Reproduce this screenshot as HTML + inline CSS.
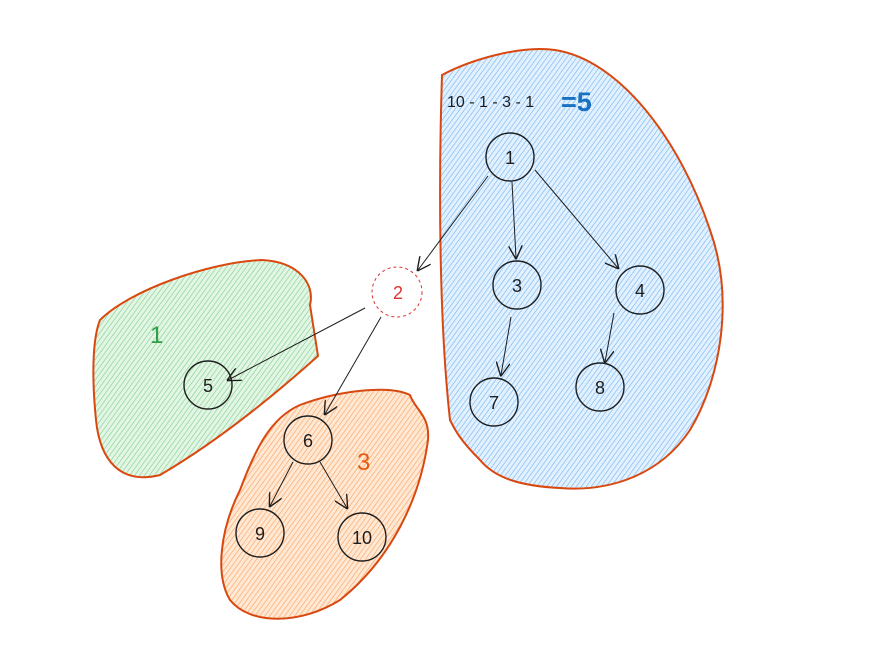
<!DOCTYPE html>
<html><head><meta charset="utf-8"><style>
html,body{margin:0;padding:0;background:#fff;width:894px;height:648px;overflow:hidden}
svg{display:block}
text{font-family:"Liberation Sans",sans-serif}
</style></head><body>
<svg width="894" height="648" viewBox="0 0 894 648">
<defs>
<pattern id="hb" width="4" height="4" patternUnits="userSpaceOnUse" patternTransform="rotate(36)">
<rect width="4" height="4" fill="#e3f1ff"/><line x1="0" y1="0" x2="0" y2="4" stroke="#6db4f2" stroke-width="1.2"/></pattern>
<pattern id="hg" width="4" height="4" patternUnits="userSpaceOnUse" patternTransform="rotate(36)">
<rect width="4" height="4" fill="#e3f6e5"/><line x1="0" y1="0" x2="0" y2="4" stroke="#7ccf8a" stroke-width="1.2"/></pattern>
<pattern id="ho" width="4" height="4" patternUnits="userSpaceOnUse" patternTransform="rotate(36)">
<rect width="4" height="4" fill="#ffe8d4"/><line x1="0" y1="0" x2="0" y2="4" stroke="#fca05a" stroke-width="1.2"/></pattern>
<marker id="ar" viewBox="0 0 10 10" refX="9" refY="5" markerWidth="14" markerHeight="14" orient="auto" markerUnits="userSpaceOnUse">
<path d="M0,0 L10,5 L0,10" fill="none" stroke="#1e1e1e" stroke-width="1"/></marker>
</defs>
<path d="M442,75 C470,60 520,45 555,50 C620,60 680,140 710,230 C735,300 720,380 690,430 C660,475 610,492 560,488 C520,486 495,478 480,460 C460,440 455,430 450,420 C440,330 438,200 442,75 Z" fill="url(#hb)" stroke="#d9480f" stroke-width="2"/>
<path d="M100,320 C130,290 210,262 262,260 C300,262 315,285 310,305 L318,356 C280,390 220,440 160,475 C120,485 100,460 96,420 C92,380 92,340 100,320 Z" fill="url(#hg)" stroke="#d9480f" stroke-width="2"/>
<path d="M300,405 C340,390 390,385 410,395 C415,410 430,415 428,440 C420,500 390,560 340,600 C300,625 250,625 230,600 C215,575 220,530 240,490 C255,450 270,418 300,405 Z" fill="url(#ho)" stroke="#d9480f" stroke-width="2"/>
<text x="447" y="107" font-size="16" fill="#1e1e1e">10 - 1 - 3 - 1</text>
<text x="561" y="111" font-size="27" font-weight="bold" fill="#1971c2">=5</text>
<text x="150" y="343" font-size="24" fill="#2f9e44">1</text>
<text x="357" y="470" font-size="24" fill="#e8590c">3</text>
<g stroke="#1e1e1e" stroke-width="1" fill="none" marker-end="url(#ar)">
<line x1="488" y1="176" x2="418" y2="270"/>
<line x1="512" y1="182" x2="516" y2="258"/>
<line x1="535" y1="170" x2="618" y2="268"/>
<line x1="365" y1="308" x2="228" y2="380"/>
<line x1="381" y1="317" x2="325" y2="414"/>
<line x1="511" y1="317" x2="501" y2="375"/>
<line x1="614" y1="313" x2="605" y2="362"/>
<line x1="293" y1="462" x2="270" y2="506"/>
<line x1="320" y1="462" x2="347" y2="508"/>
</g>
<g font-size="18" fill="#1e1e1e" text-anchor="middle">
<g><circle cx="510" cy="157" r="24" fill="none" stroke="#1e1e1e" stroke-width="1.4"/><text x="510" y="164">1</text></g>
<g><circle cx="517" cy="285" r="24" fill="none" stroke="#1e1e1e" stroke-width="1.4"/><text x="517" y="292">3</text></g>
<g><circle cx="640" cy="290" r="24" fill="none" stroke="#1e1e1e" stroke-width="1.4"/><text x="640" y="297">4</text></g>
<g><circle cx="494" cy="402" r="24" fill="none" stroke="#1e1e1e" stroke-width="1.4"/><text x="494" y="409">7</text></g>
<g><circle cx="600" cy="387" r="24" fill="none" stroke="#1e1e1e" stroke-width="1.4"/><text x="600" y="394">8</text></g>
<g><circle cx="397" cy="292" r="25" fill="#fff" stroke="#e03131" stroke-width="1" stroke-dasharray="3 3"/><text x="398" y="299" fill="#e03131">2</text></g>
<g><circle cx="208" cy="385" r="24" fill="none" stroke="#1e1e1e" stroke-width="1.4"/><text x="208" y="392">5</text></g>
<g><circle cx="308" cy="440" r="24" fill="none" stroke="#1e1e1e" stroke-width="1.4"/><text x="308" y="447">6</text></g>
<g><circle cx="260" cy="533" r="24" fill="none" stroke="#1e1e1e" stroke-width="1.4"/><text x="260" y="540">9</text></g>
<g><circle cx="362" cy="537" r="24" fill="none" stroke="#1e1e1e" stroke-width="1.4"/><text x="362" y="544">10</text></g>
</g>
</svg>
</body></html>
